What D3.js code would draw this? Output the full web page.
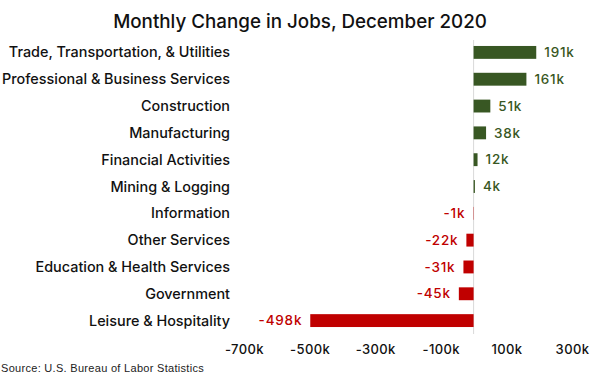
<!DOCTYPE html>
<html>
<head>
<meta charset="utf-8">
<script src="https://cdn.jsdelivr.net/npm/d3@7"></script>
<style>
  body { margin: 0; background: #fff; }
  svg { display: block; }
</style>
</head>
<body>
<svg width="600" height="375"></svg>
<script>
const categories = [
  "Trade, Transportation, & Utilities",
  "Professional & Business Services",
  "Construction",
  "Manufacturing",
  "Financial Activities",
  "Mining & Logging",
  "Information",
  "Other Services",
  "Education & Health Services",
  "Government",
  "Leisure & Hospitality",
];
const changes = [191, 161, 51, 38, 12, 4, -1, -22, -31, -45, -498];
const tickValues = [-700, -500, -300, -100, 100, 300];

const green = "#385723",
  red = "#c00000";
const font = "Inter, sans-serif";

let svg = d3.select("svg");

const x = d3.scaleLinear().domain([-700, 300]).range([244, 572]);
const y = d3
  .scaleBand()
  .domain(categories)
  .range([39, 334])
  .paddingInner(0.52)
  .paddingOuter(0.26);

// title
svg
  .append("text")
  .attr("x", 300)
  .attr("y", 28)
  .attr("text-anchor", "middle")
  .attr("font-family", font)
  .attr("font-size", "18.8px")
  .attr("font-weight", 500)
  .attr("fill", "#111")
  .text("Monthly Change in Jobs, December 2020");

// zero line
svg
  .append("line")
  .attr("x1", x(0))
  .attr("x2", x(0))
  .attr("y1", 40)
  .attr("y2", 334)
  .attr("stroke", "#d9d9d9")
  .attr("stroke-width", 1);

const rows = categories.map((c, i) => ({ name: c, value: changes[i] }));

svg
  .selectAll("rect.bar")
  .data(rows)
  .enter()
  .append("rect")
  .attr("class", "bar")
  .attr("x", (d) => x(Math.min(0, d.value)))
  .attr("y", (d) => y(d.name))
  .attr("width", (d) => Math.abs(x(d.value) - x(0)))
  .attr("height", y.bandwidth())
  .attr("fill", (d) => (d.value >= 0 ? green : red));

// value labels
svg
  .selectAll("text.value")
  .data(rows)
  .enter()
  .append("text")
  .attr("class", "value")
  .attr("x", (d) => (d.value >= 0 ? x(d.value) + 8 : x(d.value) - 8))
  .attr("y", (d) => y(d.name) + y.bandwidth() / 2)
  .attr("dy", "0.35em")
  .attr("text-anchor", (d) => (d.value >= 0 ? "start" : "end"))
  .attr("font-family", font)
  .attr("font-size", "13.5px")
  .attr("font-weight", 500)
  .attr("letter-spacing", "0.8px")
  .attr("fill", (d) => (d.value >= 0 ? green : red))
  .text((d) => d.value + "k");

// category labels
svg
  .selectAll("text.cat")
  .data(rows)
  .enter()
  .append("text")
  .attr("class", "cat")
  .attr("x", 230)
  .attr("y", (d) => y(d.name) + y.bandwidth() / 2)
  .attr("dy", "0.35em")
  .attr("text-anchor", "end")
  .attr("font-family", font)
  .attr("font-size", "14.4px")
  .attr("font-weight", 500)
  .attr("fill", "#111")
  .text((d) => d.name);

// x axis
const xAxis = svg
  .append("g")
  .attr("transform", "translate(0,345)")
  .call(
    d3
      .axisBottom(x)
      .tickValues(tickValues)
      .tickSize(0)
      .tickPadding(0)
      .tickFormat((d) => d + "k")
  );
xAxis.select(".domain").remove();
xAxis
  .selectAll("text")
  .attr("font-family", font)
  .attr("font-size", "13px")
  .attr("font-weight", 500)
  .attr("letter-spacing", "0.4px")
  .attr("fill", "#111")
  .attr("dy", "0.71em");

// source
svg
  .append("text")
  .attr("x", 1)
  .attr("y", 372)
  .attr("font-family", "'Liberation Sans', Arial, sans-serif")
  .attr("font-size", "11px")
  .attr("letter-spacing", "0.3px")
  .attr("fill", "#222")
  .text("Source: U.S. Bureau of Labor Statistics");
</script>
</body>
</html>
